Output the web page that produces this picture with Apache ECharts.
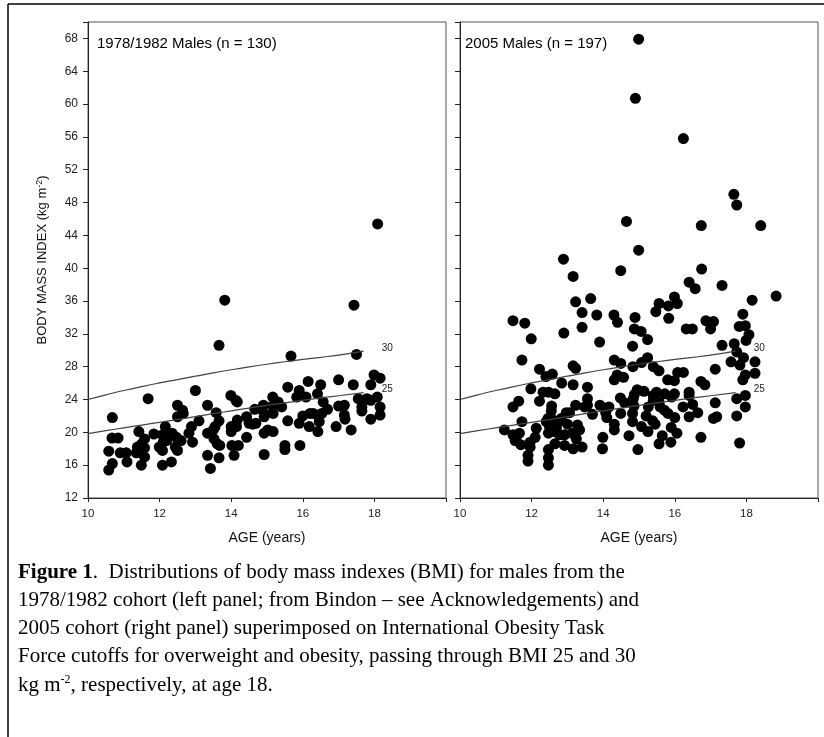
<!DOCTYPE html>
<html>
<head>
<meta charset="utf-8">
<script src="https://cdn.jsdelivr.net/npm/echarts@6/dist/echarts.min.js"></script>
<style>
  html, body { margin: 0; padding: 0; background: #fff; }
  #main { width: 824px; height: 737px; }
</style>
</head>
<body>
<div id="main"></div>
<script>
// 1978/1982 males: [age, BMI]
var males1978 = [
  [10.58, 17.7], [10.58, 15.4], [10.68, 16.2], [10.68, 21.8], [10.67, 19.3], [10.84, 19.3], [10.9, 17.5], [11.07, 17.5], [11.09, 16.4],
  [11.35, 17.5], [11.42, 20.1], [11.38, 18.2], [11.49, 16.0], [11.5, 18.6], [11.58, 19.2], [11.58, 17.0], [11.68, 24.1], [11.58, 18.1],
  [11.84, 19.8], [11.99, 18.2], [12.08, 17.8], [12.08, 16.0], [12.08, 19.7], [12.1, 18.8], [12.16, 20.7], [12.16, 19.9], [12.33, 16.4],
  [12.35, 19.9], [12.47, 19.4], [12.5, 23.3], [12.5, 21.9], [12.44, 18.2], [12.5, 17.8], [12.6, 19.0], [12.64, 22.7], [12.66, 22.3],
  [12.82, 19.9], [12.89, 20.7], [12.92, 18.8], [13.0, 25.1], [13.1, 21.4], [13.34, 23.3], [13.34, 19.9], [13.34, 17.2], [13.42, 15.6],
  [13.5, 20.3], [13.52, 19.2],
  [13.55, 20.7], [13.58, 22.4], [13.61, 18.6], [13.66, 30.6], [13.66, 21.4], [13.66, 16.9], [13.68, 18.4], [13.82, 36.1], [13.99, 24.5],
  [14.0, 20.7], [14.0, 20.1], [14.02, 18.4], [14.08, 17.2], [14.13, 23.9], [14.17, 23.7], [14.17, 21.5], [14.2, 18.4], [14.15, 20.7],
  [14.43, 21.9], [14.43, 19.4], [14.5, 21.1], [14.66, 22.8], [14.69, 21.1], [14.9, 23.3], [14.92, 22.3], [14.92, 21.9], [14.92, 19.9],
  [14.92, 17.3], [15.02, 20.3],
  [15.16, 24.3], [15.16, 23.2], [15.17, 22.3], [15.17, 20.1], [15.31, 23.7], [15.41, 23.1], [15.5, 18.4], [15.5, 17.9], [15.58, 25.5],
  [15.58, 21.4], [15.67, 29.3],
  [15.83, 24.3], [15.9, 25.1], [15.9, 21.1], [15.92, 18.4], [16.0, 22.0], [16.09, 24.3], [16.15, 26.2], [16.18, 20.7], [16.2, 22.3],
  [16.29, 22.3], [16.41, 24.7], [16.42, 20.1], [16.43, 22.0], [16.46, 21.3], [16.5, 25.8], [16.53, 22.3], [16.57, 23.7], [16.69, 22.8],
  [16.93, 20.7], [17.0, 26.4], [17.0, 23.2], [17.16, 23.3], [17.16, 22.1], [17.18, 21.6], [17.35, 20.3], [17.43, 35.5], [17.41, 25.8],
  [17.5, 29.5],
  [17.55, 24.1], [17.65, 23.1], [17.65, 22.6], [17.79, 24.1], [17.9, 25.8], [17.9, 21.6], [17.9, 23.9], [17.99, 27.0], [18.08, 24.3],
  [18.16, 26.6], [18.16, 23.1], [18.16, 22.1], [18.09, 45.4],
  [12.2, 19.0], [14.6, 21.0]
];

// 2005 males: [age, BMI]
var males2005 = [
  [14.99, 67.9], [14.9, 60.7], [16.24, 55.8], [17.65, 49.0], [17.73, 47.7], [14.65, 45.7], [16.74, 45.2], [18.4, 45.2], [14.99, 42.2], [12.89, 41.1],
  [13.16, 39.0], [14.49, 39.7], [16.75, 39.9], [16.4, 38.3], [16.57, 37.5], [17.32, 37.9], [18.83, 36.6],
  [13.23, 35.9], [13.65, 36.3], [15.56, 35.7], [15.99, 36.5], [16.07, 35.7], [15.82, 35.4], [18.16, 36.1],
  [15.47, 34.7], [13.41, 34.6], [13.82, 34.3], [14.3, 34.3], [14.4, 33.4], [14.89, 34.0], [11.48, 33.6], [11.81, 33.3], [15.83, 33.9],
  [16.87, 33.6], [17.08, 33.5], [17.0, 32.6], [16.32, 32.6], [16.49, 32.6],
  [17.9, 34.4], [17.97, 33.0], [17.8, 32.9], [14.87, 32.6], [15.06, 32.3], [13.41, 32.8], [12.9, 32.1], [11.99, 31.4], [18.07, 31.9],
  [17.99, 31.2], [15.24, 31.3], [13.9, 31.0], [14.82, 30.5], [17.32, 30.6], [17.66, 30.8],
  [17.73, 29.8], [17.92, 29.1], [18.24, 28.6], [18.24, 27.2], [17.57, 28.6], [17.82, 28.2], [17.97, 27.0], [17.9, 26.4],
  [11.73, 28.8], [12.22, 27.7], [12.4, 26.8], [12.58, 27.1], [13.16, 28.1], [13.23, 27.8], [12.84, 26.0], [13.16, 25.8], [13.56, 25.5], [11.98, 25.3],
  [11.64, 23.8], [11.48, 23.1], [12.22, 23.8], [12.32, 24.9], [12.47, 24.9], [12.65, 24.7], [12.56, 23.2],
  [14.31, 28.8], [14.49, 28.4], [14.83, 28.0], [15.07, 28.5], [15.24, 29.1], [15.4, 28.0], [15.56, 27.5], [14.31, 26.4], [14.39, 27.0],
  [14.57, 26.7], [15.8, 26.4], [15.99, 26.3], [16.08, 27.3], [16.24, 27.3], [16.73, 26.2], [16.84, 25.8], [17.13, 27.7],
  [13.56, 24.1], [13.56, 23.3], [13.23, 23.3], [13.48, 23.1], [13.91, 23.3], [14.07, 22.4], [14.16, 23.1], [14.48, 24.2], [14.49, 22.3],
  [14.87, 24.6], [14.84, 24.1], [14.86, 23.2], [14.82, 22.3], [15.14, 25.0], [15.26, 23.1], [15.4, 24.5], [15.49, 24.9], [15.4, 23.9],
  [15.56, 23.7], [15.59, 23.1], [15.71, 22.7], [15.81, 22.3], [16.0, 21.8], [15.72, 24.7], [15.99, 24.7], [15.91, 24.3], [16.23, 23.1],
  [16.4, 24.9], [16.4, 24.5], [16.4, 21.9], [16.64, 22.4], [17.13, 23.6], [17.08, 21.7], [17.17, 21.9], [17.73, 24.1], [17.97, 24.5],
  [17.97, 23.1], [17.73, 22.0],
  [17.81, 18.7], [16.73, 19.4], [16.06, 19.9], [15.89, 18.8], [15.65, 19.6], [15.56, 18.6], [15.25, 20.1], [15.07, 20.7], [14.97, 17.9],
  [14.72, 19.6], [14.31, 21.0], [14.31, 20.3], [13.99, 19.4], [13.98, 18.0], [14.82, 21.3], [15.38, 21.4],
  [13.28, 20.9], [13.34, 20.3], [13.2, 19.7], [13.25, 19.2], [13.16, 18.0], [13.41, 18.2], [13.14, 19.9], [12.97, 22.4], [13.06, 22.4],
  [12.83, 21.7], [12.72, 21.1], [12.6, 21.5], [12.46, 21.7], [12.41, 21.3], [12.5, 20.7], [12.6, 20.1], [12.47, 19.9], [12.69, 20.5],
  [12.78, 19.7], [12.92, 19.7], [12.92, 18.4],
  [12.13, 20.5], [11.73, 21.3], [11.24, 20.3], [11.48, 19.7], [11.57, 19.4], [11.66, 19.9], [11.54, 19.0], [11.96, 18.8], [11.96, 18.2],
  [11.9, 17.2], [11.9, 16.5], [12.47, 17.9], [12.47, 16.9], [12.47, 16.0], [12.65, 18.6],
  [12.55, 22.6], [13.0, 21.0], [13.7, 22.2], [14.1, 21.8], [14.6, 23.6], [15.2, 22.0], [15.45, 21.0], [15.9, 20.6], [16.5, 23.4],
  [12.1, 19.4], [11.7, 18.5], [14.95, 25.2]
];

// IOTF cutoff curves (males), as drawn
var cutAges = [10, 10.5, 11, 11.5, 12, 12.5, 13, 13.5, 14, 14.5, 15, 15.5, 16, 16.5, 17, 17.7];
var cut25 = [19.84, 20.2, 20.55, 20.89, 21.22, 21.56, 21.91, 22.27, 22.62, 22.96, 23.29, 23.6, 23.9, 24.19, 24.46, 24.85];
var cut30 = [24.0, 24.57, 25.1, 25.58, 26.02, 26.43, 26.84, 27.25, 27.63, 27.98, 28.3, 28.6, 28.88, 29.14, 29.41, 29.9];

var panelTitles = ['1978/1982 Males (n = 130)', '2005 Males (n = 197)'];
var xTicks = [10, 12, 14, 16, 18];

function pairs(xs, ys) {
  return xs.map(function (x, i) { return [x, ys[i]]; });
}

var axisFont = 'Liberation Sans, Arial, sans-serif';

function xAxisFor(gi) {
  return {
    type: 'value', gridIndex: gi, min: 10, max: 20, interval: 2,
    name: 'AGE (years)', nameLocation: 'middle', nameGap: 33,
    nameTextStyle: { fontFamily: axisFont, fontSize: 14, color: '#111' },
    axisLine: { show: true, lineStyle: { color: '#222', width: 1 } },
    axisTick: { show: true, inside: false, length: 4, lineStyle: { color: '#222' } },
    axisLabel: {
      fontFamily: axisFont, fontSize: 11.5, color: '#222', margin: 10,
      formatter: function (v) { return xTicks.indexOf(v) >= 0 ? String(v) : ''; }
    },
    splitLine: { show: false }
  };
}

function yAxisFor(gi, withLabels) {
  var ax = {
    type: 'value', gridIndex: gi, min: 12, max: 70, interval: 4,
    axisLine: { show: true, lineStyle: { color: '#222', width: 1 } },
    axisTick: { show: true, inside: false, length: 5, lineStyle: { color: '#222' } },
    axisLabel: {
      show: withLabels, fontFamily: axisFont, fontSize: 12, color: '#222', margin: 10,
      formatter: function (v) { return v > 68 ? '' : String(v); }
    },
    splitLine: { show: false }
  };
  if (withLabels) {
    ax.name = 'BODY MASS INDEX (kg m{sup|-2})';
    ax.nameLocation = 'middle';
    ax.nameGap = 38;
    ax.nameTextStyle = {
      fontFamily: axisFont, fontSize: 13, color: '#111',
      rich: { sup: { fontFamily: axisFont, fontSize: 9, color: '#111', verticalAlign: 'top', padding: [0, 0, 6, 0] } }
    };
  }
  return ax;
}

function scatterSeries(gi, data) {
  return {
    type: 'scatter', xAxisIndex: gi, yAxisIndex: gi, data: data,
    symbol: 'circle', symbolSize: 11,
    itemStyle: { color: '#000', opacity: 1 },
    silent: true
  };
}

function cutSeries(gi, ys, lbl) {
  return {
    type: 'line', xAxisIndex: gi, yAxisIndex: gi, data: pairs(cutAges, ys),
    showSymbol: false, smooth: true, silent: true,
    lineStyle: { color: '#444', width: 1.2 },
    endLabel: {
      show: true, formatter: lbl, distance: 18, offset: [0, -3],
      fontFamily: axisFont, fontSize: 10, color: '#222'
    }
  };
}

var chart = echarts.init(document.getElementById('main'), null, { renderer: 'canvas' });

var captionFont = '"Liberation Serif", "Times New Roman", serif';
var capSize = 21;
var capRich = {
  b: { fontFamily: captionFont, fontSize: capSize, fontWeight: 'bold', color: '#000' },
  n: { fontFamily: captionFont, fontSize: capSize, color: '#000' },
  s: { fontFamily: captionFont, fontSize: 12, color: '#000', verticalAlign: 'top', padding: [0, 0, 10, 0] }
};
var captionLines = [
  '{b|Figure 1}{n|.  Distributions of body mass indexes (BMI) for males from the}',
  '{n|1978/1982 cohort (left panel; from Bindon \u2013 see Acknowledgements) and}',
  '{n|2005 cohort (right panel) superimposed on International Obesity Task}',
  '{n|Force cutoffs for overweight and obesity, passing through BMI 25 and 30}',
  '{n|kg m}{s|-2}{n|, respectively, at age 18.}'
];

var graphics = [
  { type: 'line', shape: { x1: 8, y1: 4, x2: 824, y2: 4 }, style: { stroke: '#000', lineWidth: 1.5 }, silent: true },
  { type: 'line', shape: { x1: 8, y1: 4, x2: 8, y2: 737 }, style: { stroke: '#000', lineWidth: 1.5 }, silent: true }
];
captionLines.forEach(function (t, i) {
  graphics.push({
    type: 'text', left: 18, top: 562 + i * 28, silent: true,
    style: { text: t, rich: capRich, font: capSize + 'px ' + captionFont }
  });
});

var titleStyle = { fontFamily: axisFont, fontSize: 15, fontWeight: 'normal', color: '#000' };

var option = {
  backgroundColor: '#fff',
  animation: false,
  title: [
    { text: panelTitles[0], left: 97, top: 36, padding: 0, textStyle: titleStyle },
    { text: panelTitles[1], left: 465, top: 36, padding: 0, textStyle: titleStyle }
  ],
  grid: [
    { left: 88, top: 22, width: 358, height: 476, show: true, borderColor: '#555', borderWidth: 1, backgroundColor: 'transparent' },
    { left: 460, top: 22, width: 358, height: 476, show: true, borderColor: '#555', borderWidth: 1, backgroundColor: 'transparent' }
  ],
  xAxis: [xAxisFor(0), xAxisFor(1)],
  yAxis: [yAxisFor(0, true), yAxisFor(1, false)],
  series: [
    cutSeries(0, cut30, '30'),
    cutSeries(0, cut25, '25'),
    scatterSeries(0, males1978),
    cutSeries(1, cut30, '30'),
    cutSeries(1, cut25, '25'),
    scatterSeries(1, males2005)
  ],
  graphic: graphics
};

chart.setOption(option);
</script>
</body>
</html>
